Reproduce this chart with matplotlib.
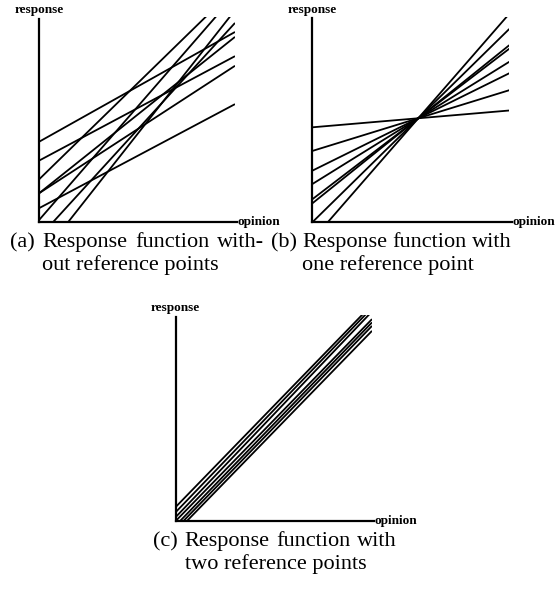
import numpy as np
import matplotlib.pyplot as plt

W, H = 559, 593

# (a) no reference points: value of each response line at opinion 0 and at opinion 1
a_left = [0.392, 0.300, 0.209, 0.141, 0.141, 0.068, 0.011, -0.074, -0.179]
a_right = [0.927, 0.809, 1.140, 0.762, 0.903, 0.575, 1.109, 0.971, 1.033]

# (b) one reference point: every line passes through the same pivot
b_pivot = (0.538, 0.506)
b_left = [0.462, 0.347, 0.251, 0.186, 0.112, 0.092, 0.0, -0.086]

# (c) two reference points: nearly parallel lines
c_left = [0.068, 0.043, 0.019, 0.0, -0.022, -0.039, -0.056]
c_right = [1.050, 1.035, 1.017, 0.980, 0.964, 0.947, 0.923]

captions = [
    ("(a)", "Response function with-", "out reference points"),
    ("(b)", "Response function with", "one reference point"),
    ("(c)", "Response function with", "two reference points"),
]

plt.rcParams["font.family"] = ["Liberation Serif", "DejaVu Serif"]

fig = plt.figure(figsize=(W / 100, H / 100), dpi=100)


def px_axes(left, right, bottom, top):
    return fig.add_axes([left / W, 1 - bottom / H, (right - left) / W, (bottom - top) / H])


def panel(ax, left_vals, right_vals):
    ax.set_xlim(0, 1)
    ax.set_ylim(0, 1)
    ax.axis("off")
    for y0, y1 in zip(left_vals, right_vals):
        ax.plot([0, 1], [y0, y1], color="black", lw=1.3, solid_capstyle="butt")
    ax.plot([0, 0], [0, 0.992], color="black", lw=1.6, clip_on=False)
    ax.plot([0, 1.012], [0, 0], color="black", lw=1.6, clip_on=False)
    ax.text(0, 1.005, "response", ha="center", va="bottom", fontsize=9.5,
            fontweight="bold", transform=ax.transAxes)
    ax.text(1.015, 0, "opinion", ha="left", va="center", fontsize=9.5,
            fontweight="bold", transform=ax.transAxes)


ax_a = px_axes(39.3, 235, 222, 17)
panel(ax_a, a_left, a_right)

# lines of (b) go through the pivot, so the right end follows from the left value
px, py = b_pivot
b_right = [y0 + (py - y0) / px for y0 in b_left]
ax_b = px_axes(312.3, 509.3, 222.3, 16.7)
panel(ax_b, b_left, b_right)

ax_c = px_axes(175.7, 372, 521, 315)
panel(ax_c, c_left, c_right)

renderer = fig.canvas.get_renderer()


def caption(x0, x1, y, parts, size=16):
    # first line justified between x0 and x1, second line hangs under the text
    tag, line1, line2 = parts
    words = [tag] + line1.split()
    texts = [fig.text(0, 1 - y / H, w, fontsize=size, va="baseline", ha="left")
             for w in words]
    widths = [t.get_window_extent(renderer).width for t in texts]
    gap = (x1 - x0 - sum(widths)) / (len(words) - 1)
    x = x0
    for t, w in zip(texts, widths):
        t.set_x(x / W)
        x += w + gap
    indent = x0 + widths[0] + gap
    fig.text(indent / W, 1 - (y + 23) / H, line2, fontsize=size, va="baseline", ha="left")


caption(10, 264, 247, captions[0])
caption(271, 512, 247, captions[1])
caption(153, 397, 546, captions[2])

fig.savefig("out.png", dpi=100)
